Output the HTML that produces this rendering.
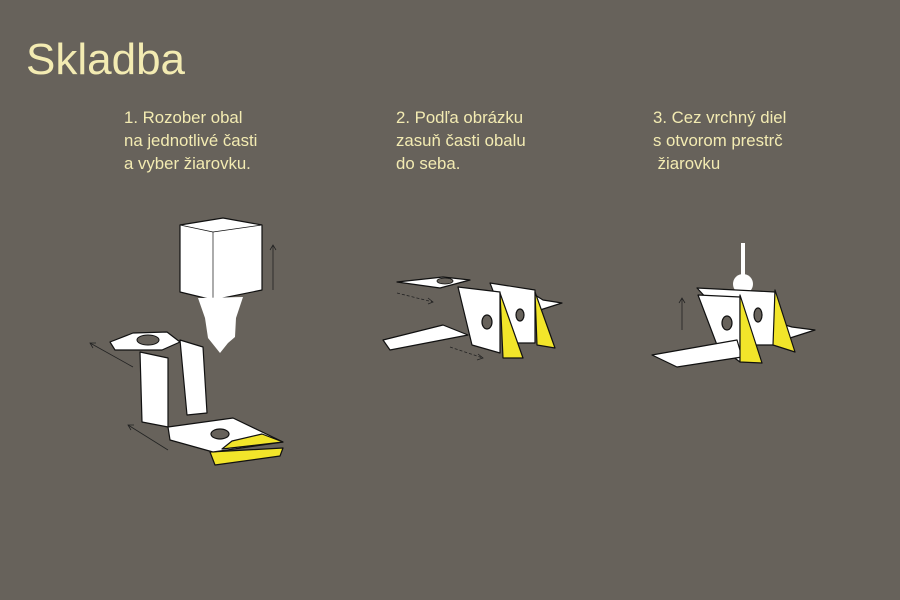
<!DOCTYPE html>
<html><head><meta charset="utf-8"><style>
html,body{margin:0;padding:0}
body{width:900px;height:600px;background:#67625b;position:relative;overflow:hidden;font-family:"Liberation Sans","DejaVu Sans",sans-serif;color:#f3ebb2}
.t{position:absolute;left:26px;top:34px;font-size:44px;line-height:52px}
.p{position:absolute;font-size:16.8px;line-height:23px;white-space:pre}
svg{position:absolute;left:0;top:0}
</style></head><body>
<div class="t">Skladba</div>
<div class="p" style="left:124px;top:106px">1. Rozober obal
na jednotlivé časti
a vyber žiarovku.</div>
<div class="p" style="left:396px;top:106px">2. Podľa obrázku
zasuň časti obalu
do seba.</div>
<div class="p" style="left:653px;top:106px">3. Cez vrchný diel
s otvorom prestrč
 žiarovku</div>
<svg width="900" height="600" viewBox="0 0 900 600">
<g stroke="#111" stroke-width="1.2" stroke-linejoin="round" fill="#fff">
<!-- drawing 1 -->
<polygon points="180,225 223,218 262,225 262,290 213,300 180,292"/>
<polyline points="180,225 213,232 262,225" fill="none" stroke-width="0.7"/>
<line x1="213" y1="232" x2="213" y2="300" stroke-width="0.7"/>
<polygon points="198,298 243,297 236,318 235,337 228,343 220,353 212,343 208,338 205,318" stroke="none"/>
<polygon points="110,342 133,333 167,332 180,342 162,350 115,350"/>
<ellipse cx="148" cy="340" rx="11" ry="5" fill="#67625b" stroke-width="1"/>
<polygon points="140,352 168,358 168,427 142,422"/>
<polygon points="180,340 203,347 207,413 187,415"/>
<polygon points="210,452 283,448 280,456 215,465" fill="#f2e52a"/>
<polygon points="168,427 233,418 283,442 213,452 170,440"/>
<polygon points="222,449 283,442 262,434 232,441" fill="#f2e52a"/>
<ellipse cx="220" cy="434" rx="9" ry="5" fill="#67625b"/>
<!-- drawing 2 -->
<polygon points="397,282 443,277 470,280 440,288"/>
<ellipse cx="445" cy="281" rx="8" ry="3" fill="#67625b" stroke-width="0.8"/>
<polygon points="383,340 443,325 468,335 390,350"/>
<polygon points="535,295 543,300 562,303 540,310"/>
<polygon points="490,283 535,290 535,343 513,343"/>
<ellipse cx="520" cy="315" rx="4" ry="6" fill="#67625b"/>
<polygon points="535,292 555,348 537,345" fill="#f2e52a"/>
<polygon points="458,287 500,292 500,353 472,345"/>
<ellipse cx="487" cy="322" rx="5" ry="7" fill="#67625b"/>
<polygon points="500,293 523,358 503,358" fill="#f2e52a"/>
<!-- drawing 3 -->
<rect x="741" y="243" width="4" height="34" stroke="none"/>
<circle cx="743" cy="284" r="10" stroke="none"/>
<polygon points="775,322 792,327 815,330 790,338"/>
<polygon points="697,288 775,292 775,345 750,345"/>
<ellipse cx="758" cy="315" rx="4" ry="7" fill="#67625b"/>
<polygon points="775,290 795,352 773,345" fill="#f2e52a"/>
<polygon points="698,295 740,297 740,362 717,345"/>
<ellipse cx="727" cy="323" rx="5" ry="7" fill="#67625b"/>
<polygon points="652,355 737,340 742,357 677,367"/>
<polygon points="740,295 762,363 740,362" fill="#f2e52a"/>
</g>
<g stroke="#222" stroke-width="0.8" fill="none">
<line x1="273" y1="290" x2="273" y2="245"/><polyline points="270,250 273,245 276,250"/>
<line x1="133" y1="367" x2="90" y2="343"/><polyline points="96,343 90,343 93,348"/>
<line x1="168" y1="450" x2="128" y2="425"/><polyline points="134,425 128,425 131,430"/>
<line x1="397" y1="293" x2="433" y2="302" stroke-dasharray="3,2"/><polyline points="428,298 433,302 428,304"/>
<line x1="450" y1="347" x2="483" y2="358" stroke-dasharray="3,2"/><polyline points="478,354 483,358 477,360"/>
<line x1="682" y1="330" x2="682" y2="298"/><polyline points="679,303 682,298 685,303"/>
</g>
</svg>
</body></html>
